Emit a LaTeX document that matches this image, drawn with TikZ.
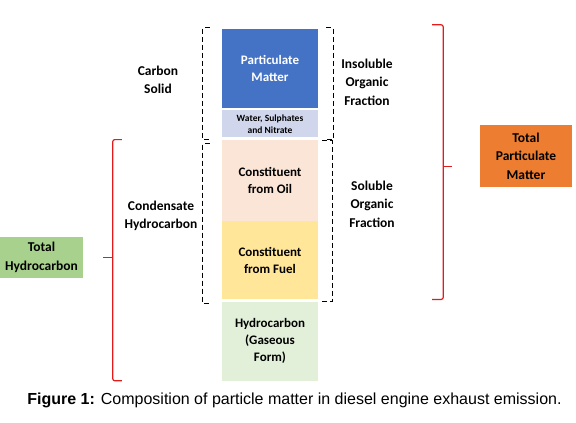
\documentclass[tikz,border=0pt]{standalone}
\usepackage{fontspec}
\setmainfont{Carlito}
\newfontfamily\capfont{Liberation Sans}
\usetikzlibrary{positioning}
\definecolor{pmblue}{HTML}{4472C4}
\definecolor{wsnfill}{HTML}{D0D6EB}
\definecolor{oilfill}{HTML}{FBE5D6}
\definecolor{fuelfill}{HTML}{FFE699}
\definecolor{gasfill}{HTML}{E2F0D9}
\definecolor{thcfill}{HTML}{A9D18E}
\definecolor{tpmfill}{HTML}{ED7D31}
\definecolor{bracered}{HTML}{E31B1B}

\begin{document}
\begin{tikzpicture}[
      x=1pt,y=-1pt,
      node distance=2pt,
      layer/.style={minimum width=96pt,inner sep=0pt,align=center,
                    font=\bfseries\fontsize{13}{17}\selectfont},
      lbl/.style={inner sep=0pt,align=center,font=\bfseries\fontsize{13.5}{18.5}\selectfont},
      totalbox/.style={lbl,minimum height=41pt},
      dashbr/.style={line width=1.1pt,dash pattern=on 5pt off 3pt},
      redbr/.style={draw=bracered,line width=1.2pt,rounded corners=2pt}
    ]
      \useasboundingbox (0,0) rectangle (576,423);
      \node[layer,fill=pmblue,text=white,minimum height=79pt] (pm) at (270,68.5) {Particulate\\Matter};
      \node[layer,fill=wsnfill,minimum height=27pt,below=2pt of pm,
            font=\bfseries\fontsize{9.5}{12}\selectfont] (wsn) {Water, Sulphates\\and Nitrate};
      \node[layer,fill=oilfill,minimum height=81pt,below=2pt of wsn] (oil) {Constituent\\from Oil};
      \node[layer,fill=fuelfill,minimum height=78pt,below=0pt of oil] (fuel) {Constituent\\from Fuel};
      \node[layer,fill=gasfill,minimum height=79pt,below=2pt of fuel] (gas) {Hydrocarbon\\(Gaseous\\Form)};
      \node[lbl] (cs) at (158,80) {Carbon\\Solid};
      \node[lbl] (ch) at (161,216) {Condensate\\Hydrocarbon};
      \node[lbl] (iof) at (367,82) {Insoluble\\Organic\\Fraction};
      \node[lbl] (sof) at (372,204) {Soluble\\Organic\\Fraction};
      \node[totalbox,fill=thcfill,minimum width=83pt] (thc) at (41.5,257.5) {Total\\Hydrocarbon};
      \node[totalbox,fill=tpmfill,minimum width=92pt,minimum height=62pt] (tpm) at (526,156) {Total\\Particulate\\Matter};
      \draw[dashbr] ([xshift=-12pt,yshift=1pt]pm.north west) -| ([xshift=-19pt,yshift=-2pt]wsn.south west) -- ++(7,0);
      \draw[dashbr] ([xshift=-12pt,yshift=-4pt]oil.north west) -| ([xshift=-19pt,yshift=-4pt]fuel.south west) -- ++(7,0);
      \draw[dashbr] ([xshift=8pt,yshift=1pt]pm.north east) -| ([xshift=15pt,yshift=-2pt]wsn.south east) -- ++(-7,0);
      \draw[dashbr] ([xshift=4pt,yshift=-1pt]oil.north east) -| ([xshift=14pt,yshift=-2pt]fuel.south east) -- ++(-10,0);
      \draw[redbr] ([xshift=-100pt]oil.north west) -| ([xshift=-109pt]gas.south west) -- ++(9,0);
      \draw[redbr] ([xshift=-109pt]gas.south west |- thc.east) -- ++(-10,0);
      \draw[redbr] ([xshift=114pt,yshift=4pt]pm.north east) -| ([xshift=125pt]fuel.south east) -- ++(-11,0);
      \draw[redbr] ([xshift=125pt,yshift=14pt]oil.east) -- ++(9,0);
      \node[font=\capfont\fontsize{16}{19}\selectfont,inner sep=0pt] (cap) at (294.5,400)
            {\textbf{Figure 1:} Composition of particle matter in diesel engine exhaust emission.};
    \end{tikzpicture}
\end{document}
